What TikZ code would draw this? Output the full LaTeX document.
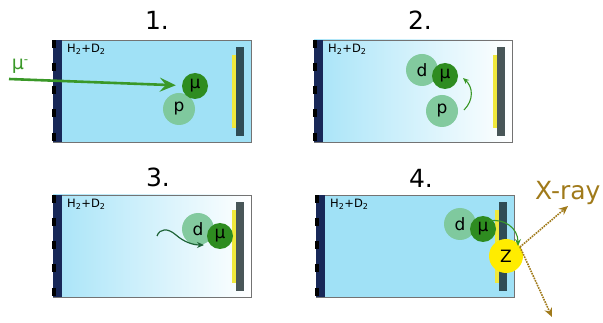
\documentclass[tikz,border=0pt]{standalone}
\usepackage{fontspec}
\setmainfont{DejaVu Sans}
\usetikzlibrary{arrows.meta,calc}

\definecolor{gasblue}{RGB}{160,225,246}
\definecolor{gaslight}{RGB}{168,228,248}
\definecolor{windowblue}{RGB}{24,40,88}
\definecolor{platedark}{RGB}{47,76,85}
\definecolor{plategray}{RGB}{72,86,88}
\definecolor{foil}{RGB}{240,232,60}
\definecolor{muongreen}{RGB}{46,140,32}
\definecolor{beamgreen}{RGB}{58,152,40}
\definecolor{nucleus}{RGB}{126,200,154}
\definecolor{wavegreen}{RGB}{30,100,56}
\definecolor{xraybrown}{RGB}{160,122,26}
\definecolor{zyellow}{RGB}{255,236,0}

\tikzset{
  solidgas/.style={fill=gasblue},
  fadegas/.style={left color=gaslight,right color=white,shading angle=90},
  boxline/.style={draw=black!55,line width=0.8pt},
  title/.style={font=\fontsize{25}{25}\selectfont},
  gaslabel/.style={font=\fontsize{11.5}{12}\selectfont,inner sep=0pt},
  nucl/.style={circle,fill=nucleus,opacity=0.95,text opacity=1,minimum size=32pt,inner sep=0pt,font=\fontsize{17}{17}\selectfont},
  muon/.style={circle,fill=muongreen,minimum size=26pt,inner sep=0pt,font=\fontsize{17}{17}\selectfont},
  znucl/.style={circle,fill=zyellow,minimum size=34pt,inner sep=0pt,font=\fontsize{17}{17}\selectfont},
  xray/.style={xraybrown,densely dotted,line width=1.6pt,-{Stealth[length=9pt,width=8pt]}},
}

% chamber: #1,#2 top-left corner, #3 gas fill style, #4 plate colour
\newcommand\chamber[4]{%
  \begin{scope}[shift={(#1,#2)}]
    \path[#3] (0,0) rectangle (198,102);
    \draw[boxline] (0,0) rectangle (198,102);
    \fill[windowblue] (0,0) rectangle (9,102);
    \foreach \d in {0,23,46,69,93}
      \fill[black] (-1,\d) rectangle (3,\d+8);
    \fill[foil] (179,15) rectangle (183,88);
    \fill[#4] (183,7) rectangle (191,96);
  \end{scope}}

\begin{document}
\begin{tikzpicture}[x=1pt,y=-1pt]
  \useasboundingbox (0,0) rectangle (603,323);

  % four chambers
  \chamber{53}{40}{solidgas}{platedark}
  \chamber{314}{40}{fadegas}{plategray}
  \chamber{53}{195}{fadegas}{plategray}
  \chamber{316}{195}{solidgas}{platedark}

  % titles and gas labels
  \node[title] (t1) at (157,20) {1.};
  \node[title] (t2) at (420,20) {2.};
  \node[title] (t3) at (158,177) {3.};
  \node[title] (t4) at (421,178) {4.};
  \node[gaslabel,anchor=base west] (g1) at (67,53) {H\textsubscript{2}+D\textsubscript{2}};
  \node[gaslabel,anchor=base west] (g2) at (328,53) {H\textsubscript{2}+D\textsubscript{2}};
  \node[gaslabel,anchor=base west] (g3) at (67,208) {H\textsubscript{2}+D\textsubscript{2}};
  \node[gaslabel,anchor=base west] (g4) at (330,208) {H\textsubscript{2}+D\textsubscript{2}};

  % 1. muon enters and is captured by a proton
  \node[nucl] (p1) at (179,109) {p};
  \node[muon] (mu1) at (195,86) {μ};
  \node[beamgreen,font=\fontsize{19}{19}\selectfont,inner sep=0pt] (mulabel) at (20,66) {μ\raisebox{0.55ex}{\fontsize{12}{12}\selectfont -}};
  \coordinate (beam) at (9,79);
  \draw[beamgreen,line width=2.6pt,shorten >=6pt,-{Stealth[length=16pt,width=14pt,inset=6pt]}] (beam) -- (mu1);

  % 2. transfer to a deuteron
  \node[nucl] (d2) at (422,70) {d};
  \node[muon] (mu2) at (445,76) {μ};
  \node[nucl] (p2) at (442,111) {p};
  \coordinate (from2) at ($(p2)+(22,-1)$);
  \coordinate (to2) at ($(mu2)+(18,2)$);
  \draw[beamgreen,line width=1.1pt,-{Stealth[length=6pt,width=5pt]}]
    (from2) .. controls ($(from2)+(10,-10)$) and ($(to2)+(10,9)$) .. (to2);

  % 3. muonic deuterium drifts to the target
  \node[nucl] (d3) at (198,229) {d};
  \node[muon] (mu3) at (220,236) {μ};
  \coordinate (wave) at (157,236);
  \coordinate (drift) at ($(d3)+(6,16)$);
  \draw[wavegreen,line width=1.2pt,-{Stealth[length=7pt,width=6pt]}]
    (wave) .. controls ($(wave)+(3,-8)$) and ($(wave)+(11,-8)$) .. ($(wave)+(19,-1)$)
    .. controls ($(wave)+(27,6)$) and ($(wave)+(36,9)$) .. (drift);

  % 4. transfer to a heavy nucleus, X-ray emission
  \node[nucl] (d4) at (460,224) {d};
  \node[muon] (mu4) at (483,229) {μ};
  \node[znucl] (z4) at (506,256) {Z};
  \coordinate (top4) at ($(mu4)+(6,-8)$);
  \coordinate (hit4) at ($(z4)+(12,-10)$);
  \draw[beamgreen,line width=1.1pt,-{Stealth[length=7pt,width=6pt]}]
    (top4) .. controls ($(top4)+(15,-3)$) and ($(hit4)+(0,-18)$) .. (hit4);
  \coordinate (emit) at ($(z4)+(14,-9)$);
  \coordinate (ray1) at (568,206);
  \coordinate (ray2) at (552,317);
  \draw[xray] (emit) -- (ray1);
  \draw[xray] (emit) -- (ray2);
  \node[xraybrown,font=\fontsize{25}{25}\selectfont,anchor=base west,inner sep=0pt] (xlabel) at (535,200) {X-ray};
\end{tikzpicture}
\end{document}
